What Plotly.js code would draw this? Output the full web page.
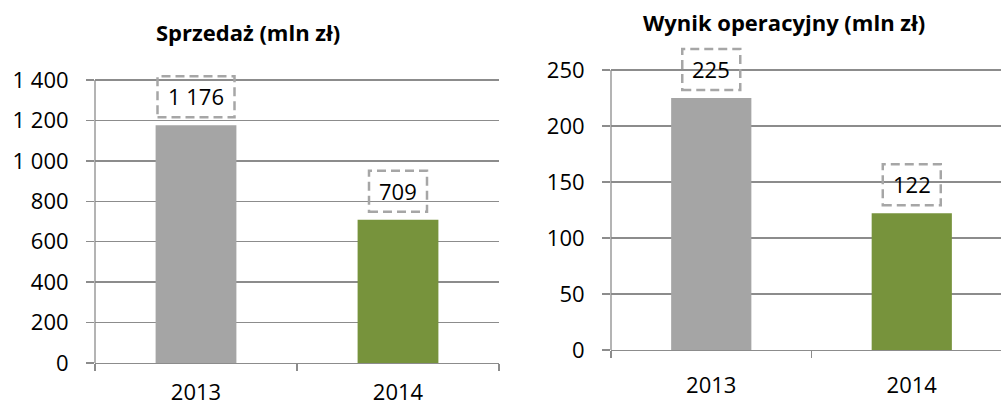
<!DOCTYPE html>
<html>
<head>
<meta charset="utf-8">
<script src="https://cdn.plot.ly/plotly-3.0.1.min.js"></script>
<style>html,body{margin:0;padding:0;overflow:hidden;background:#fff}</style>
</head>
<body>
<div id="chart" style="width:1001px;height:407px"></div>
<script>
const years = ['2013', '2014'];
const salesValues = [1176, 709];
const opValues = [225, 122];
const salesTicks = [0, 200, 400, 600, 800, 1000, 1200, 1400];
const opTicks = [0, 50, 100, 150, 200, 250];
const salesTitle = 'Sprzedaż (mln zł)';
const opTitle = 'Wynik operacyjny (mln zł)';
const barColors = ['#A5A5A5', '#77933C'];

const FONT = 'Open Sans, sans-serif';
const fmt = v => String(v).replace(/\B(?=(\d{3})+(?!\d))/g, ' ');

const traces = [
  {type: 'bar', x: years, y: salesValues, xaxis: 'x', yaxis: 'y',
   marker: {color: barColors}, width: 0.4, hoverinfo: 'none'},
  {type: 'bar', x: years, y: opValues, xaxis: 'x2', yaxis: 'y2',
   marker: {color: barColors}, width: 0.4, hoverinfo: 'none'}
];

const gridColor = '#8C8C8C';
const tickFont = {family: FONT, size: 22, color: '#000'};

function xAxis(domain, range, standoff) {
  return {domain: domain, type: 'category', range: range,
    showline: true, linecolor: gridColor, linewidth: 1.3,
    ticks: 'outside', tickson: 'boundaries', ticklen: 7, tickcolor: gridColor, tickwidth: 1.3,
    showgrid: false, tickfont: tickFont, ticklabelstandoff: standoff, fixedrange: true};
}
// y range extends a little above the top tick so the dashed label boxes are not clipped;
// the visible axis line is drawn only up to the top tick.
function yAxis(domain, range, ticks) {
  return {domain: domain, range: range, tickmode: 'array', tickvals: ticks, tickformat: ',d',
    showline: false,
    ticks: 'outside', ticklen: 8, tickcolor: gridColor, tickwidth: 1.3,
    showgrid: true, gridcolor: gridColor, gridwidth: 1.3, zeroline: false,
    tickfont: tickFont, ticklabelstandoff: 13, fixedrange: true};
}

const annotations = [];
const shapes = [];
function addLabels(values, xr, yr) {
  values.forEach((v, i) => {
    const txt = fmt(v);
    const w = txt.length > 3 ? 77 : 58;
    annotations.push({xref: xr, yref: yr, x: i, y: v, text: txt, showarrow: false,
      xanchor: 'center', yanchor: 'middle', yshift: 29, font: {family: FONT, size: 22, color: '#000'}});
    shapes.push({type: 'rect', xref: xr, yref: yr, xsizemode: 'pixel', ysizemode: 'pixel',
      xanchor: i, yanchor: v, x0: -w / 2, x1: w / 2, y0: 8, y1: 49,
      line: {color: '#A6A6A6', width: 2.5, dash: '9px,5px'}, fillcolor: 'rgba(0,0,0,0)'});
  });
}
addLabels(salesValues, 'x', 'y');
addLabels(opValues, 'x2', 'y2');

// y axis lines from 0 to top tick
shapes.push({type: 'line', xref: 'x domain', yref: 'y', x0: 0, x1: 0, y0: 0, y1: salesTicks[salesTicks.length - 1],
  line: {color: gridColor, width: 1.3}});
shapes.push({type: 'line', xref: 'x2 domain', yref: 'y2', x0: 0, x1: 0, y0: 0, y1: opTicks[opTicks.length - 1],
  line: {color: gridColor, width: 1.3}});

annotations.push({xref: 'paper', yref: 'paper', x: 248 / 1001, y: 1 - 32 / 407, text: '<b>' + salesTitle + '</b>',
  showarrow: false, xanchor: 'center', yanchor: 'middle', font: {family: FONT, size: 22, color: '#000'}});
annotations.push({xref: 'paper', yref: 'paper', x: 784 / 1001, y: 1 - 22 / 407, text: '<b>' + opTitle + '</b>',
  showarrow: false, xanchor: 'center', yanchor: 'middle', font: {family: FONT, size: 22, color: '#000'}});

const layout = {
  width: 1001, height: 407,
  margin: {l: 0, r: 0, t: 0, b: 0},
  paper_bgcolor: '#fff', plot_bgcolor: '#fff',
  separators: ', ',
  showlegend: false,
  bargap: 0.6,
  xaxis: xAxis([95 / 1001, 499 / 1001], [-0.5, 1.5], 9),
  yaxis: yAxis([1 - 363 / 407, 1 - 59.8 / 407], [0, 1500], salesTicks),
  xaxis2: Object.assign(xAxis([611 / 1001, 1], [-0.5, 1.445], 15), {anchor: 'y2'}),
  yaxis2: Object.assign(yAxis([1 - 350 / 407, 1 - 36.4 / 407], [0, 280], opTicks), {anchor: 'x2'}),
  annotations: annotations,
  shapes: shapes
};
layout.xaxis.anchor = 'y';
layout.yaxis.anchor = 'x';

Plotly.newPlot('chart', traces, layout, {staticPlot: true, displayModeBar: false});
</script>
</body>
</html>
